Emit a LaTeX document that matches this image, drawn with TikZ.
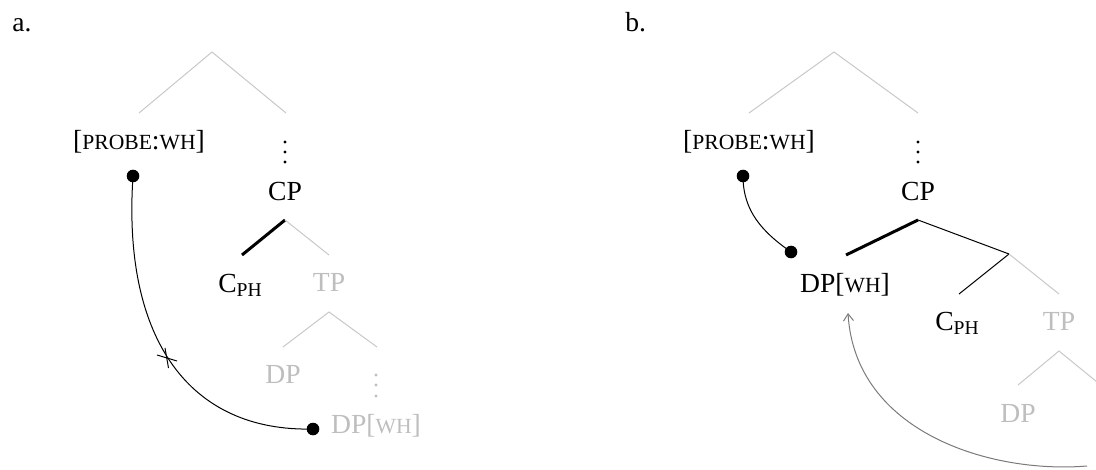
\documentclass[tikz,border=0pt]{standalone}
\usepackage{fontspec}
\setmainfont{Liberation Serif}
\usetikzlibrary{arrows.meta}
\definecolor{lgray}{HTML}{C8C8C8}
\definecolor{tgray}{HTML}{BEBEBE}
\definecolor{agray}{HTML}{7A7A7A}
\newcommand{\mysc}[1]{{\fontsize{10.8}{12}\selectfont #1}}
\newcommand{\mysub}[1]{\raisebox{-2pt}{\fontsize{9.8}{11}\selectfont #1}}
\begin{document}
\begin{tikzpicture}[x=0.5pt,y=-0.5pt,
  lab/.style={inner sep=0pt,anchor=base,font=\fontsize{13.8}{16}\selectfont},
  glab/.style={lab,text=tgray},
  gl/.style={draw=lgray,line width=0.5pt},
  bl/.style={draw=black,line width=0.5pt},
  tl/.style={draw=black,line width=1.5pt},
  dotn/.style={circle,fill=black,inner sep=0pt,minimum size=6.3pt},
  vdot/.style={circle,inner sep=0pt,minimum size=1.7pt,fill=#1},
  cur/.style={draw=black,line width=0.5pt},
  mov/.style={draw=agray,line width=0.5pt,-{Straight Barb[length=3.5pt,width=5pt]}}
]
\useasboundingbox (0,0) rectangle (1096,470);

% ---------- a ----------
\node[lab,anchor=base west] (alab) at (12,32) {a.};
\coordinate (a-top) at (212,52);
\coordinate (a-l) at (139,113);
\coordinate (a-r) at (286,113);
\draw[gl] (a-l) -- (a-top) -- (a-r);
\node[lab] (a-probe) at (139,150) {[\mysc{PROBE}:\mysc{WH}]};
\node[vdot=black] (a-v1) at (285,142) {};
\node[vdot=black] (a-v2) at (285,152) {};
\node[vdot=black] (a-v3) at (285,162) {};
\node[lab] (a-cp) at (285,200) {CP};
\coordinate (a-cpt) at (285,220);
\coordinate (a-cpl) at (242,255);
\coordinate (a-cpr) at (329,255);
\draw[tl] (a-cpt) -- (a-cpl);
\draw[gl] (a-cpt) -- (a-cpr);
\node[lab] (a-c) at (240,292) {C\mysub{PH}};
\node[glab] (a-tp) at (329,291) {TP};
\coordinate (a-tpt) at (329,312);
\coordinate (a-tpl) at (283,347);
\coordinate (a-tpr) at (377,347);
\draw[gl] (a-tpl) -- (a-tpt) -- (a-tpr);
\node[glab] (a-dp) at (283,383) {DP};
\node[vdot=tgray] (a-w1) at (376,375) {};
\node[vdot=tgray] (a-w2) at (376,385) {};
\node[vdot=tgray] (a-w3) at (376,396) {};
\node[glab] (a-dpwh) at (376,433) {DP[\mysc{WH}]};
\node[dotn] (a-d1) at (133,176) {};
\node[dotn] (a-d2) at (313,429) {};
\draw[cur] (a-d1.center) .. controls (122,340) and (190,432) .. (a-d2.center);
\coordinate (a-x) at (167,358);
\draw[cur] ([shift={(-10,-3)}]a-x) -- ([shift={(10,3)}]a-x);
\draw[cur] ([shift={(-2,-10)}]a-x) -- ([shift={(1.5,10)}]a-x);

% ---------- b ----------
\node[lab,anchor=base west] (blab) at (625,32) {b.};
\coordinate (b-top) at (834,52);
\coordinate (b-l) at (749,113);
\coordinate (b-r) at (918,113);
\draw[gl] (b-l) -- (b-top) -- (b-r);
\node[lab] (b-probe) at (749,150) {[\mysc{PROBE}:\mysc{WH}]};
\node[vdot=black] (b-v1) at (918,142) {};
\node[vdot=black] (b-v2) at (918,152) {};
\node[vdot=black] (b-v3) at (918,162) {};
\node[lab] (b-cp) at (918,200) {CP};
\coordinate (b-cpt) at (918,220);
\coordinate (b-cpl) at (846,255);
\coordinate (b-cpr) at (1009,254);
\draw[tl] (b-cpt) -- (b-cpl);
\draw[bl] (b-cpt) -- (b-cpr);
\coordinate (b-cbl) at (959,294);
\coordinate (b-cbr) at (1059,294);
\draw[bl] (b-cpr) -- (b-cbl);
\draw[gl] (b-cpr) -- (b-cbr);
\node[lab] (b-dpwh) at (845,292) {DP[\mysc{WH}]};
\node[lab] (b-c) at (957,330) {C\mysub{PH}};
\node[glab] (b-tp) at (1059,330) {TP};
\coordinate (b-tpt) at (1059,351);
\coordinate (b-tpl) at (1018,385);
\coordinate (b-tpr) at (1097,382);
\draw[gl] (b-tpl) -- (b-tpt) -- (b-tpr);
\node[glab] (b-dp) at (1018,422) {DP};
\node[dotn] (b-d1) at (743,176) {};
\node[dotn] (b-d2) at (791,252) {};
\draw[cur] (b-d1.center) to[out=-90,in=145] (b-d2.center);
\coordinate (b-mS) at (1087,466);
\coordinate (b-mE) at (848,313);
\draw[mov] (b-mS) .. controls (990,474) and (855,432) .. (b-mE);
\end{tikzpicture}
\end{document}
